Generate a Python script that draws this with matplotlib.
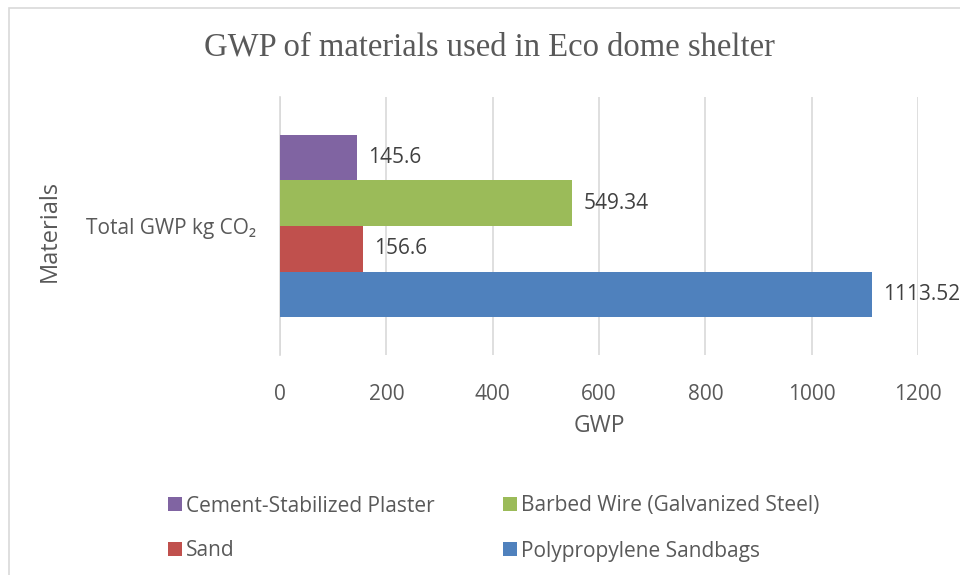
import matplotlib
matplotlib.use("Agg")
import matplotlib.pyplot as plt
from matplotlib.patches import Rectangle

plt.rcParams['font.family'] = ['Open Sans', 'DejaVu Sans']

# Data
category = "Total GWP kg CO\u2082"
materials = ["Polypropylene Sandbags", "Sand",
             "Barbed Wire (Galvanized Steel)", "Cement-Stabilized Plaster"]
gwp_values = [1113.52, 156.6, 549.34, 145.6]
value_labels = ["1113.52", "156.6", "549.34", "145.6"]
colors = ["#4F81BD", "#C0504D", "#9BBB59", "#8064A2"]
x_ticks = [0, 200, 400, 600, 800, 1000, 1200]

TEXT = "#595959"
GRID = "#D9D9D9"

W, H = 960, 575
fig = plt.figure(figsize=(W / 100, H / 100), dpi=100)
ax = fig.add_axes([280 / W, 1 - 355 / H, (918 - 280) / W, (355 - 97) / H])

# outer chart frame
fig.patches.append(Rectangle((9 / W, -0.05), 1.2, 1 - 7.5 / H + 0.05,
                             transform=fig.transFigure, fill=False,
                             edgecolor=GRID, linewidth=1.2, zorder=0))

n = len(materials)
h = 0.177
for i, (name, val, lab, col) in enumerate(zip(materials, gwp_values, value_labels, colors)):
    yc = (i - (n - 1) / 2) * h
    ax.barh(yc, val, height=h, color=col, label=name, zorder=3)
    ax.annotate(lab, (val, yc), xytext=(8, 0), textcoords="offset points",
                va="center", ha="left", fontsize=15, color="#404040")

ax.set_xlim(0, 1200)
ax.set_ylim(-0.5, 0.5)
ax.set_xticks(x_ticks)
ax.set_xticklabels([str(t) for t in x_ticks], fontsize=15, color=TEXT)
ax.set_yticks([0])
ax.set_yticklabels([category], fontsize=15, color=TEXT)
ax.tick_params(axis="x", length=0, pad=21)
ax.tick_params(axis="y", length=0, pad=17)
ax.xaxis.grid(True, color=GRID, linewidth=1.2, zorder=0)
ax.set_axisbelow(True)
for s in ["top", "right", "bottom"]:
    ax.spines[s].set_visible(False)
ax.spines["left"].set_color(GRID)
ax.spines["left"].set_linewidth(1.2)

ax.set_xlabel("GWP", fontsize=16.5, color=TEXT, labelpad=6)
ax.set_ylabel("Materials", fontsize=17, color=TEXT)
ax.yaxis.set_label_coords((62 - 280) / (918 - 280), 0.48)

fig.text(489 / W, 1 - 47 / H, "GWP of materials used in Eco dome shelter",
         family="Liberation Serif", fontsize=23.5, color=TEXT,
         ha="center", va="center")

# legend: two columns, row-major order from the top bar down
legend_items = list(zip(materials, colors))[::-1]
col_x = [168, 503]
row_y = [504, 549]
for k, (name, col) in enumerate(legend_items):
    x0 = col_x[k % 2]
    y0 = row_y[k // 2]
    fig.patches.append(Rectangle((x0 / W, 1 - (y0 + 7) / H), 14 / W, 14 / H,
                                 transform=fig.transFigure, facecolor=col,
                                 edgecolor="none"))
    fig.text((x0 + 18) / W, 1 - (y0 + 2) / H, name, fontsize=15, color=TEXT,
             ha="left", va="center")

fig.savefig("out.png", dpi=100)
